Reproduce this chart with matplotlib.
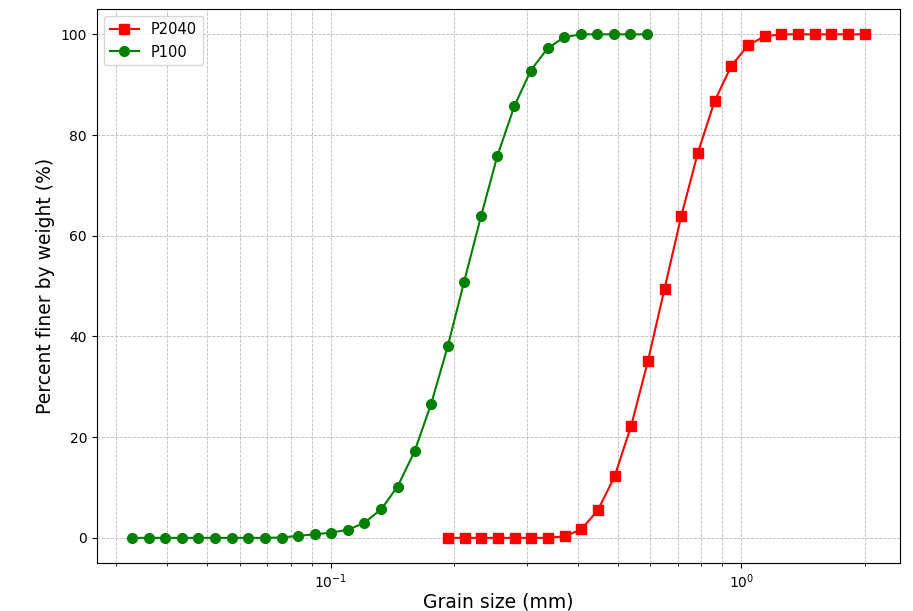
import matplotlib.pyplot as plt

# grain size (mm) and percent finer for the two samples
p100_size = [0.0327, 0.0360, 0.0394, 0.0434, 0.0475, 0.0522, 0.0573, 0.0630,
             0.0691, 0.0759, 0.0832, 0.0914, 0.1002, 0.1102, 0.1208, 0.1327,
             0.1455, 0.1600, 0.1754, 0.1928, 0.2113, 0.2323, 0.2547, 0.2799,
             0.3069, 0.3373, 0.3698, 0.4064, 0.4457, 0.4898, 0.5370, 0.5902]
p100_pct = [0, 0, 0, 0, 0, 0, 0, 0,
            0, 0.07, 0.4, 0.7, 1.05, 1.6, 3.0, 5.7,
            10.2, 17.2, 26.5, 38.1, 50.9, 63.9, 75.9, 85.7,
            92.8, 97.2, 99.4, 100, 100, 100, 100, 100]

p2040_size = [0.1929, 0.2118, 0.2326, 0.2554, 0.2804, 0.3079, 0.3381, 0.3712,
              0.4076, 0.4475, 0.4914, 0.5395, 0.5924, 0.6504, 0.7142, 0.7842,
              0.8610, 0.9454, 1.0380, 1.1397, 1.2514, 1.3740, 1.5087, 1.6565,
              1.8188, 1.9971]
p2040_pct = [0, 0, 0, 0, 0, 0, 0, 0.3,
             1.7, 5.5, 12.2, 22.3, 35.1, 49.5, 63.9, 76.5,
             86.7, 93.7, 97.8, 99.6, 100, 100, 100, 100,
             100, 100]

fig = plt.figure(figsize=(9.13, 6.11), dpi=100)
ax = fig.add_axes([0.106, 0.0785, 0.880, 0.9065])

ax.plot(p2040_size, p2040_pct, 's-', color='red', markersize=7, linewidth=1.5, label='P2040')
ax.plot(p100_size, p100_pct, 'o-', color='green', markersize=7, linewidth=1.5, label='P100')

ax.set_xscale('log')
ax.set_xlim(0.0269, 2.44)
ax.set_ylim(-5, 105)
ax.set_xlabel('Grain size (mm)', fontsize=13.5, labelpad=1)
ax.set_ylabel('Percent finer by weight (%)', fontsize=13.5)
ax.tick_params(labelsize=10)
ax.grid(True, which='both', linestyle='--', linewidth=0.6, color='#bbbbbb')
ax.legend(loc='upper left', fontsize=10.5)

fig.savefig('out.png', dpi=100)
